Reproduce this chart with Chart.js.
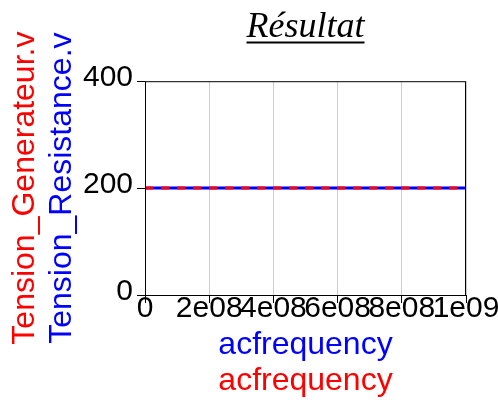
<!DOCTYPE html>
<html>
<head>
<meta charset="utf-8">
<script src="https://cdn.jsdelivr.net/npm/chart.js@4/dist/chart.umd.min.js"></script>
<style>
  html, body { margin: 0; padding: 0; background: #fff; }
  #wrap { width: 498px; height: 400px; }
</style>
</head>
<body>
<div id="wrap"><canvas id="chart" width="498" height="400"></canvas></div>
<script>
const frequencies = [0, 2e8, 4e8, 6e8, 8e8, 1e9];
const tensionGenerateur = [200, 200, 200, 200, 200, 200];
const tensionResistance = [200, 200, 200, 200, 200, 200];
const xTickLabels = ['0', '2e08', '4e08', '6e08', '8e08', '1e09'];
const yTickLabels = ['0', '200', '400'];

const RED = '#ff0000';
const BLUE = '#0000ff';
const sans = 'Liberation Sans';

function toPoints(xs, ys) {
  return xs.map((x, i) => ({ x: x, y: ys[i] }));
}

// box round the plot area + underline under the title
const framePlugin = {
  id: 'frame',
  afterDraw(chart) {
    const { ctx, chartArea } = chart;
    ctx.save();
    ctx.strokeStyle = '#000';
    ctx.lineWidth = 1;
    ctx.strokeRect(chartArea.left + 0.5, chartArea.top + 0.5,
      chartArea.right - chartArea.left - 1, chartArea.bottom - chartArea.top);

    const t = chart.options.plugins.title;
    ctx.font = 'italic 36px "Liberation Serif"';
    const w = ctx.measureText(t.text).width;
    const cx = (chartArea.left + chartArea.right) / 2;
    ctx.beginPath();
    ctx.lineWidth = 2;
    ctx.moveTo(cx - w / 2, 42.5);
    ctx.lineTo(cx + w / 2, 42.5);
    ctx.stroke();
    ctx.restore();
  }
};

new Chart(document.getElementById('chart'), {
  type: 'line',
  data: {
    datasets: [
      {
        label: 'Tension_Generateur.v',
        data: toPoints(frequencies, tensionGenerateur),
        borderColor: RED,
        borderWidth: 3,
        borderDash: [8, 8],
        pointRadius: 0,
        order: 0
      },
      {
        label: 'Tension_Resistance.v',
        data: toPoints(frequencies, tensionResistance),
        borderColor: BLUE,
        borderWidth: 3,
        pointRadius: 0,
        order: 1
      }
    ]
  },
  options: {
    responsive: false,
    animation: false,
    layout: { padding: { left: 0, right: 32, top: 0, bottom: 0 } },
    plugins: {
      legend: { display: false },
      tooltip: { enabled: false },
      title: {
        display: true,
        fullSize: false,
        text: 'Résultat',
        color: '#000',
        font: { family: 'Liberation Serif', size: 36, style: 'italic', weight: 'normal', lineHeight: 1.2 },
        padding: { top: 6, bottom: 32 }
      }
    },
    scales: {
      x: {
        type: 'linear',
        position: 'bottom',
        min: 0,
        max: 1e9,
        weight: 0,
        afterFit(scale) {
          scale.height = 70;
          scale.paddingLeft = 0;
          scale.paddingRight = 0;
        },
        grid: { color: '#cccccc', tickColor: '#000', tickLength: 8 },
        border: { color: '#000', width: 1 },
        ticks: {
          stepSize: 2e8,
          autoSkip: false,
          maxRotation: 0,
          padding: -9,
          color: '#000',
          font: { family: sans, size: 30, lineHeight: 1 },
          callback: (v, i) => xTickLabels[i]
        },
        title: {
          display: true,
          text: 'acfrequency',
          color: BLUE,
          font: { family: sans, size: 32, lineHeight: 1 },
          padding: { top: 0, bottom: 4 }
        }
      },
      x2: {
        type: 'linear',
        position: 'bottom',
        min: 0,
        max: 1,
        weight: 1,
        afterFit(scale) {
          scale.height = 35;
          scale.paddingLeft = 0;
          scale.paddingRight = 0;
        },
        grid: { display: false, drawTicks: false },
        border: { display: false },
        ticks: { display: false },
        title: {
          display: true,
          text: 'acfrequency',
          color: RED,
          font: { family: sans, size: 32, lineHeight: 1 },
          padding: { top: 0, bottom: 3 }
        }
      },
      y: {
        type: 'linear',
        position: 'left',
        min: 0,
        max: 400,
        weight: 0,
        afterFit(scale) {
          scale.width = 104;
        },
        grid: { drawOnChartArea: false, color: '#000', tickLength: 8 },
        border: { color: '#000', width: 1 },
        ticks: {
          stepSize: 200,
          padding: 4,
          labelOffset: -3,
          color: '#000',
          font: { family: sans, size: 30, lineHeight: 1 },
          callback: (v, i) => yTickLabels[i]
        },
        title: {
          display: true,
          text: 'Tension_Resistance.v',
          color: BLUE,
          font: { family: sans, size: 32, lineHeight: 1 },
          padding: { top: 5, bottom: 0 }
        }
      },
      y2: {
        type: 'linear',
        position: 'left',
        min: 0,
        max: 1,
        weight: 1,
        afterFit(scale) {
          scale.width = 41;
        },
        grid: { display: false, drawTicks: false },
        border: { display: false },
        ticks: { display: false },
        title: {
          display: true,
          text: 'Tension_Generateur.v',
          color: RED,
          font: { family: sans, size: 32, lineHeight: 1 },
          padding: { top: 9, bottom: 0 }
        }
      }
    }
  },
  plugins: [framePlugin]
});
</script>
</body>
</html>
